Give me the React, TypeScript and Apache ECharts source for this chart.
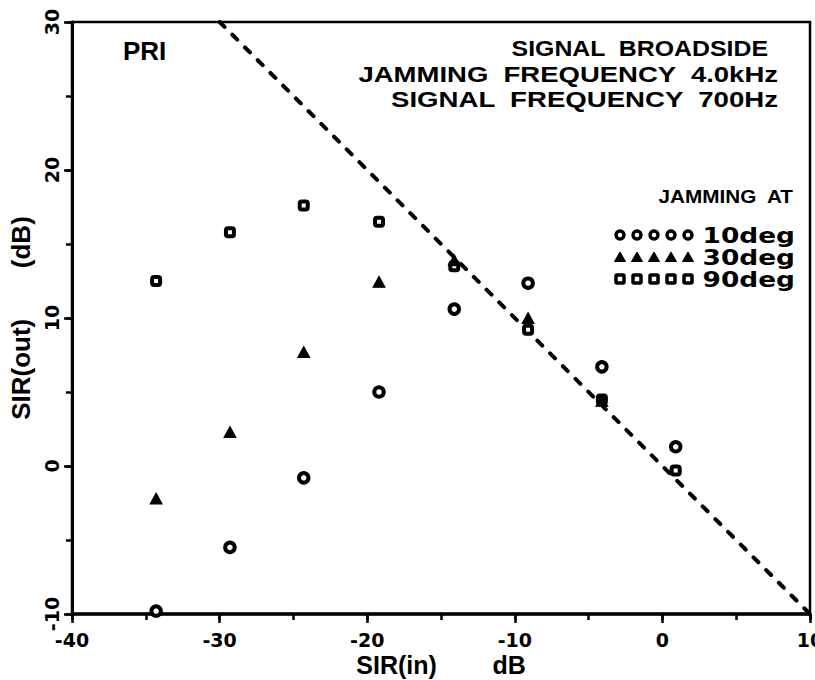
import React, { useEffect, useRef } from "react";
import * as echarts from "echarts";

// SIR(in) positions of the measurements (dB)
const sirIn = [-34.3, -29.3, -24.3, -19.2, -14.1, -9.1, -4.1, 0.9];
// SIR(out) for each jamming angle (dB)
const out10deg = [-9.8, -5.5, -0.8, 5.0, 10.6, 12.35, 6.7, 1.3];
const out30deg = [-2.2, 2.3, 7.7, 12.45, 13.9, 10.0, 4.4];
const out90deg = [12.5, 15.8, 17.6, 16.5, 13.5, 9.2, 4.5, -0.3];
// reference line SIR(out) = -SIR(in)
const refLine = [
  [-30, 30],
  [10, -10],
];

const xTicks = { min: -40, max: 10, interval: 10 };
const yTicks = { min: -10, max: 30, interval: 10 };
const minorStep = 5;

const titleLines = [
  "SIGNAL  BROADSIDE",
  "JAMMING  FREQUENCY  4.0kHz",
  "SIGNAL  FREQUENCY  700Hz",
];
const legendTitle = "JAMMING  AT";
const legendLabels = ["10deg", "30deg", "90deg"];

const pair = (ys: number[]) => ys.map((y, i) => [sirIn[i], y]);

const FONT = "'DejaVu Sans', 'Liberation Sans', sans-serif";
const TFONT = "'Liberation Sans', 'DejaVu Sans', sans-serif";

function legendGraphics() {
  const xs = [620, 637, 654, 671, 688];
  const rows = [235, 257, 279];
  const els: any[] = [];
  els.push({
    type: "text",
    x: 793,
    y: 197,
    scaleX: 1.15,
    style: {
      text: legendTitle,
      font: `bold 18px ${TFONT}`,
      fill: "#000",
      textAlign: "right",
      textVerticalAlign: "middle",
    },
  });
  xs.forEach((cx) => {
    els.push({
      type: "circle",
      shape: { cx, cy: rows[0], r: 4 },
      style: { fill: "#fff", stroke: "#000", lineWidth: 3.5 },
    });
    els.push({
      type: "polygon",
      shape: {
        points: [
          [cx, rows[1] - 5],
          [cx + 5.5, rows[1] + 4.5],
          [cx - 5.5, rows[1] + 4.5],
        ],
      },
      style: { fill: "#000", stroke: "#000", lineWidth: 1, lineJoin: "round" },
    });
    els.push({
      type: "rect",
      shape: { x: cx - 4, y: rows[2] - 4, width: 8, height: 8, r: 1 },
      style: { fill: "#fff", stroke: "#000", lineWidth: 3.5 },
    });
  });
  legendLabels.forEach((t, i) => {
    els.push({
      type: "text",
      x: 795,
      y: rows[i],
      scaleX: 1.2,
      style: {
        text: t,
        font: `bold 22px ${FONT}`,
        fill: "#000",
        textAlign: "right",
        textVerticalAlign: "middle",
      },
    });
  });
  return els;
}

const titleScale = [1.13, 1.25, 1.255];
const titleRight = [768, 778, 778];

export default function App() {
  const ref = useRef<HTMLDivElement>(null);

  useEffect(() => {
    if (!ref.current) return;
    const chart = echarts.init(ref.current, null, { renderer: "svg" });

    const axisLabel = {
      color: "#000",
      fontFamily: FONT,
      fontWeight: "bold" as const,
      fontSize: 19,
    };
    const nameStyle = {
      color: "#000",
      fontFamily: TFONT,
      fontWeight: "bold" as const,
      fontSize: 25,
    };
    // secondary axes only carry the short 5 dB ticks
    const minorAxis = (range: { min: number; max: number }, len: number) => ({
      type: "value" as const,
      min: range.min,
      max: range.max,
      interval: minorStep,
      axisLine: { show: false, onZero: false },
      axisTick: { show: true, inside: false, length: len, lineStyle: { color: "#000", width: 2.5 } },
      axisLabel: { show: false },
      splitLine: { show: false },
    });

    chart.setOption({
      animation: false,
      backgroundColor: "#fff",
      grid: {
        left: 72,
        right: 5,
        top: 22,
        bottom: 66,
        containLabel: false,
        outerBoundsMode: "none",
        show: true,
        borderColor: "#000",
        borderWidth: 2.5,
        backgroundColor: "transparent",
      },
      xAxis: [
        {
          type: "value",
          ...xTicks,
          name: "SIR(in)        dB",
          nameLocation: "middle",
          nameGap: 38,
          nameMoveOverlap: false,
          nameTextStyle: { ...nameStyle, verticalAlign: "top" },
          axisLine: { show: true, onZero: false, lineStyle: { color: "#000", width: 3.5 } },
          axisTick: { show: true, inside: false, length: 9, lineStyle: { color: "#000", width: 2.5 } },
          splitLine: { show: false },
          axisLabel: { ...axisLabel, margin: 16 },
        },
        { ...minorAxis(xTicks, 6), position: "bottom" },
      ],
      yAxis: [
        {
          type: "value",
          ...yTicks,
          name: "SIR(out)       (dB)",
          nameLocation: "middle",
          nameGap: 27,
          nameRotate: 90,
          nameTextStyle: { ...nameStyle, fontSize: 26 },
          axisLine: { show: true, onZero: false, lineStyle: { color: "#000", width: 3 } },
          axisTick: { show: true, inside: false, length: 8, lineStyle: { color: "#000", width: 2.5 } },
          splitLine: { show: false },
          axisLabel: { ...axisLabel, rotate: 90, margin: 11 },
        },
        { ...minorAxis(yTicks, 6), position: "left" },
      ],
      series: [
        {
          type: "line",
          data: refLine,
          symbol: "none",
          lineStyle: { color: "#000", width: 4, type: [7, 11], cap: "round" },
          z: 1,
        },
        {
          name: "10deg",
          type: "scatter",
          data: pair(out10deg),
          symbol: "circle",
          symbolSize: 9.5,
          itemStyle: { color: "#fff", borderColor: "#000", borderWidth: 4, opacity: 1 },
          z: 3,
        },
        {
          name: "30deg",
          type: "scatter",
          data: pair(out30deg),
          symbol: "triangle",
          symbolSize: [12, 11],
          itemStyle: { color: "#000", borderColor: "#000", borderWidth: 1, opacity: 1 },
          z: 4,
        },
        {
          name: "90deg",
          type: "scatter",
          data: pair(out90deg),
          symbol: "roundRect",
          symbolSize: 8,
          itemStyle: { color: "#fff", borderColor: "#000", borderWidth: 4, opacity: 1 },
          z: 3,
        },
      ],
      graphic: [
        {
          type: "text",
          x: 123,
          y: 51,
          style: {
            text: "PRI",
            font: `bold 26px ${TFONT}`,
            fill: "#000",
            textAlign: "left",
            textVerticalAlign: "middle",
          },
        },
        ...titleLines.map((t, i) => ({
          type: "text",
          x: titleRight[i],
          y: 49 + i * 25,
          scaleX: titleScale[i],
          style: {
            text: t,
            font: `bold 22px ${TFONT}`,
            fill: "#000",
            textAlign: "right",
            textVerticalAlign: "middle",
          },
        })),
        ...legendGraphics(),
      ],
    });

    return () => chart.dispose();
  }, []);

  return (
    <div
      ref={ref}
      style={{ position: "fixed", left: 0, top: 0, width: 815, height: 680, background: "#fff" }}
    />
  );
}
